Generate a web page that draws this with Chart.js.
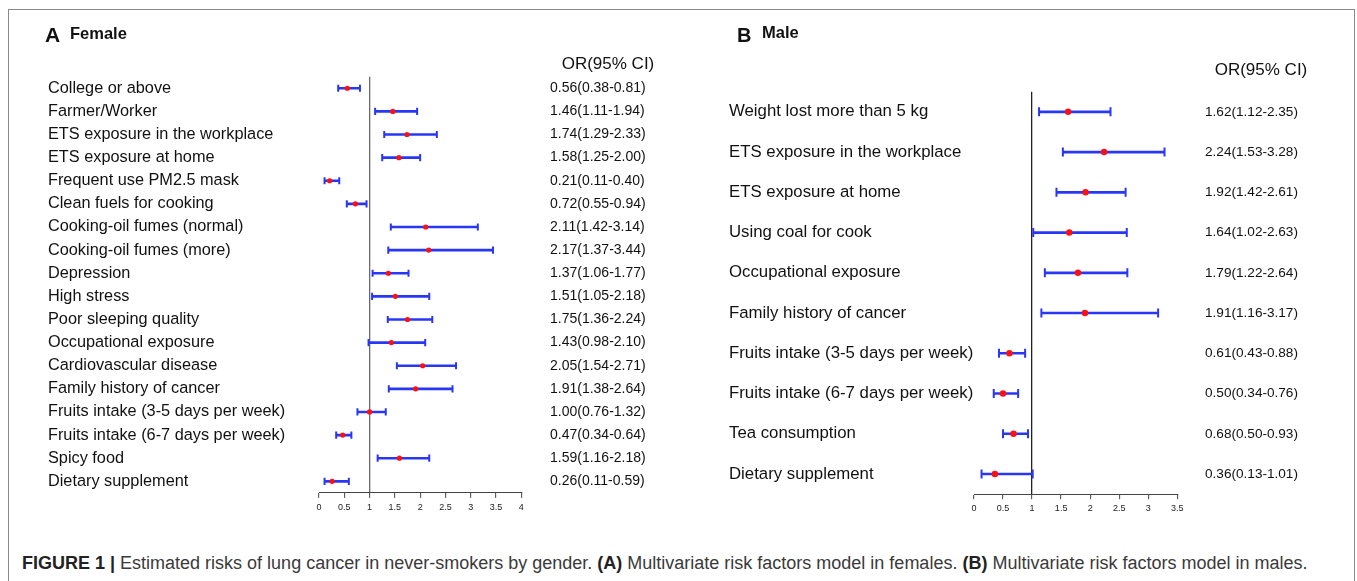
<!DOCTYPE html>
<html>
<head>
<meta charset="utf-8">
<script src="https://cdn.jsdelivr.net/npm/chart.js@4.4.1/dist/chart.umd.min.js"></script>
<style>
  body { margin: 0; background: #fff; font-family: "Liberation Sans", Arial, sans-serif; }
  #wrap { position: relative; width: 1357px; height: 581px; overflow: hidden; }
  .frame { position: absolute; left: 8px; top: 9px; width: 1345px; height: 640px; border: 1.5px solid #8a8a8a; }
  canvas { position: absolute; top: 0; }
  .t { position: absolute; white-space: nowrap; color: #111; line-height: 1; }
  .cap { position: absolute; left: 22px; top: 554px; font-size: 18px; color: #3a3a3a; white-space: nowrap; line-height: 1; }
  .cap b { color: #222; }
</style>
</head>
<body>
<div id="wrap">
  <div class="frame"></div>
  <canvas id="female" width="700" height="530" style="left:0"></canvas>
  <canvas id="male" width="657" height="530" style="left:700px"></canvas>

  <div class="t" style="left:45px;top:24px;font-size:21px;font-weight:bold">A</div>
  <div class="t" style="left:70px;top:25px;font-size:16.5px;font-weight:bold">Female</div>
  <div class="t" style="left:608px;top:54.7px;font-size:17px;transform:translateX(-50%)">OR(95% CI)</div>

  <div class="t" style="left:737px;top:25px;font-size:20px;font-weight:bold">B</div>
  <div class="t" style="left:762px;top:24px;font-size:16.5px;font-weight:bold">Male</div>
  <div class="t" style="left:1261px;top:60.7px;font-size:17px;transform:translateX(-50%)">OR(95% CI)</div>

  <div class="cap"><b>FIGURE 1 |</b> Estimated risks of lung cancer in never-smokers by gender. <b>(A)</b> Multivariate risk factors model in females. <b>(B)</b> Multivariate risk factors model in males.</div>
</div>

<script>
// female panel
const femLabels = ['College or above', 'Farmer/Worker', 'ETS exposure in the workplace', 'ETS exposure at home',
  'Frequent use PM2.5 mask', 'Clean fuels for cooking', 'Cooking-oil fumes (normal)', 'Cooking-oil fumes (more)',
  'Depression', 'High stress', 'Poor sleeping quality', 'Occupational exposure', 'Cardiovascular disease',
  'Family history of cancer', 'Fruits intake (3-5 days per week)', 'Fruits intake (6-7 days per week)',
  'Spicy food', 'Dietary supplement'];
const femOR = [0.56, 1.46, 1.74, 1.58, 0.21, 0.72, 2.11, 2.17, 1.37, 1.51, 1.75, 1.43, 2.05, 1.91, 1.00, 0.47, 1.59, 0.26];
const femLo = [0.38, 1.11, 1.29, 1.25, 0.11, 0.55, 1.42, 1.37, 1.06, 1.05, 1.36, 0.98, 1.54, 1.38, 0.76, 0.34, 1.16, 0.11];
const femHi = [0.81, 1.94, 2.33, 2.00, 0.40, 0.94, 3.14, 3.44, 1.77, 2.18, 2.24, 2.10, 2.71, 2.64, 1.32, 0.64, 2.18, 0.59];

// male panel
const maleLabels = ['Weight lost more than 5 kg', 'ETS exposure in the workplace', 'ETS exposure at home',
  'Using coal for cook', 'Occupational exposure', 'Family history of cancer',
  'Fruits intake (3-5 days per week)', 'Fruits intake (6-7 days per week)', 'Tea consumption', 'Dietary supplement'];
const maleOR = [1.62, 2.24, 1.92, 1.64, 1.79, 1.91, 0.61, 0.50, 0.68, 0.36];
const maleLo = [1.12, 1.53, 1.42, 1.02, 1.22, 1.16, 0.43, 0.34, 0.50, 0.13];
const maleHi = [2.35, 3.28, 2.61, 2.63, 2.64, 3.17, 0.88, 0.76, 0.93, 1.01];

const BLUE = 'rgb(40,55,245)';
const RED = '#ff1010';
const FONT = '"Liberation Sans", Arial, sans-serif';

const fmt = v => v.toFixed(2);

function forest(id, p) {
  const orText = p.or.map((v, i) => fmt(v) + '(' + fmt(p.lo[i]) + '-' + fmt(p.hi[i]) + ')');
  const pts = arr => arr.map((v, i) => ({ x: v, y: p.labels[i] }));
  new Chart(document.getElementById(id), {
    type: 'bar',
    data: {
      labels: p.labels,
      datasets: [
        { type: 'line', data: pts(p.or), showLine: false, pointStyle: 'circle',
          pointRadius: p.dot, pointHoverRadius: p.dot, pointBackgroundColor: RED, pointBorderWidth: 0, order: 0 },
        { type: 'line', data: pts(p.lo), showLine: false, pointStyle: 'line', rotation: 90,
          pointRadius: p.cap, pointHoverRadius: p.cap, pointBorderColor: BLUE, pointBorderWidth: 2, order: 1 },
        { type: 'line', data: pts(p.hi), showLine: false, pointStyle: 'line', rotation: 90,
          pointRadius: p.cap, pointHoverRadius: p.cap, pointBorderColor: BLUE, pointBorderWidth: 2, order: 1 },
        { data: p.lo.map((v, i) => [v, p.hi[i]]), backgroundColor: BLUE, barThickness: 2, order: 2 }
      ]
    },
    options: {
      indexAxis: 'y',
      responsive: false,
      animation: false,
      events: [],
      layout: { padding: p.pad },
      plugins: { legend: { display: false }, tooltip: { enabled: false } },
      scales: {
        x: {
          type: 'linear', min: 0, max: p.max,
          ticks: { stepSize: 0.5, padding: 4, color: '#222', font: { family: FONT, size: 9 },
                   callback: v => String(v) },
          grid: {
            color: c => (c.tick && c.tick.value === 1 ? p.refColor : 'rgba(0,0,0,0)'),
            lineWidth: 1.3, tickColor: '#444', tickLength: 5, tickWidth: 1
          },
          border: { display: true, color: '#444', width: 1 },
          afterFit: s => { s.height = 25; }
        },
        y: {
          type: 'category', position: 'left', offset: true,
          ticks: { autoSkip: false, crossAlign: 'far', padding: 0, color: '#111', font: { family: FONT, size: p.labelSize } },
          grid: { display: false, drawTicks: false },
          border: { display: false },
          afterFit: s => { s.width = p.leftW; }
        },
        y2: {
          type: 'category', position: 'right', offset: true, labels: orText,
          ticks: { autoSkip: false, crossAlign: 'near', padding: p.orGap, color: '#111', font: { family: FONT, size: p.orSize } },
          grid: { display: false, drawTicks: false },
          border: { display: false },
          afterFit: s => { s.width = p.rightW; }
        }
      }
    }
  });
}

forest('female', {
  labels: femLabels, or: femOR, lo: femLo, hi: femHi, max: 4,
  pad: { left: 48, top: 76.7, right: 28.7, bottom: 8.3 },
  leftW: 271, rightW: 150, orGap: 28.7, labelSize: 16.3, orSize: 14,
  dot: 2.6, cap: 3.6, refColor: '#6a6a6a'
});

forest('male', {
  labels: maleLabels, or: maleOR, lo: maleLo, hi: maleHi, max: 3.5,
  pad: { left: 29, top: 91.7, right: 39.7, bottom: 8.2 },
  leftW: 245, rightW: 140, orGap: 27.7, labelSize: 16.8, orSize: 13.6,
  dot: 3.2, cap: 4.5, refColor: '#222'
});
</script>
</body>
</html>
